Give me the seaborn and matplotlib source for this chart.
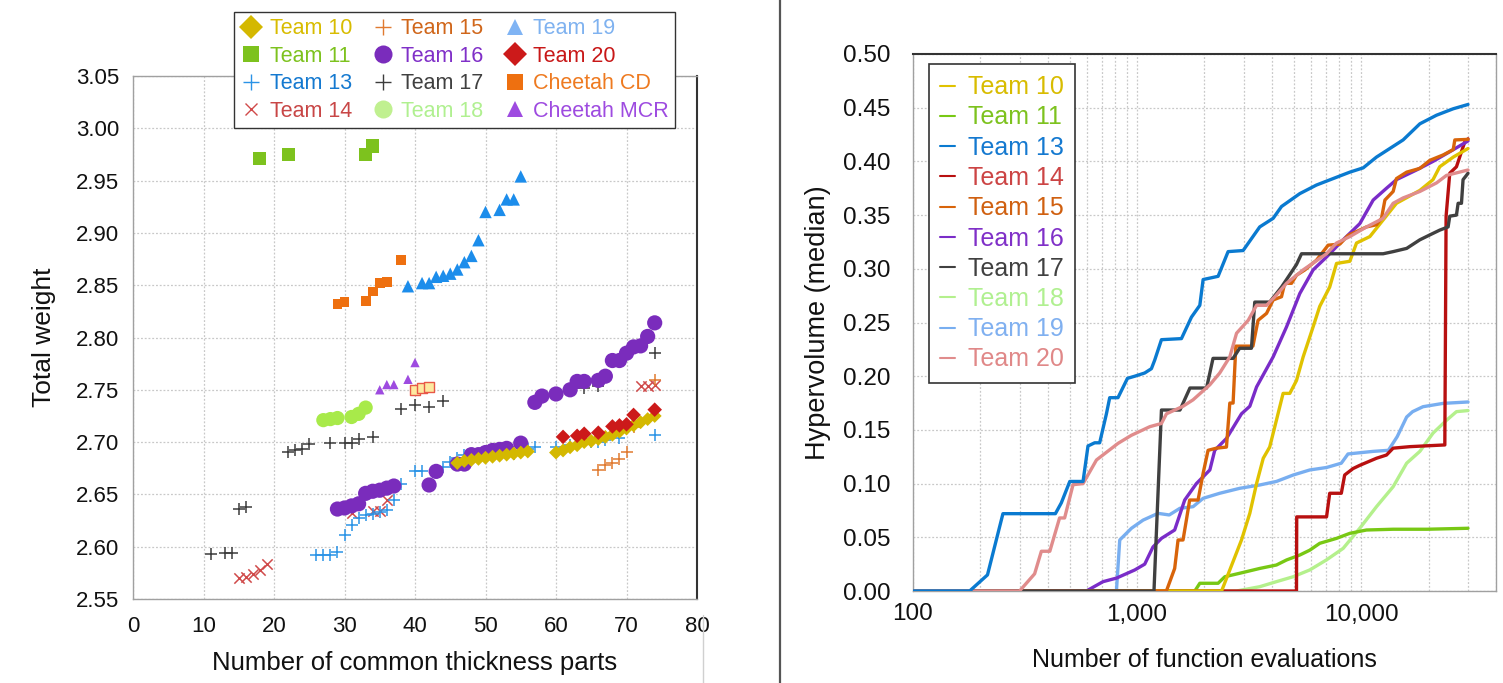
import numpy as np
import pandas as pd
import matplotlib
matplotlib.use("Agg")
import matplotlib.pyplot as plt
import seaborn as sns
from matplotlib.lines import Line2D
from matplotlib.ticker import FixedLocator, FuncFormatter, LogLocator, NullFormatter

# ---------------- LEFT PANEL DATA: (number of common thickness parts, total weight) ----------------
team10_parts = [46, 47, 48, 49, 50, 51, 52, 53, 54, 55, 56, 60, 61, 62, 63, 64, 65, 66, 67, 68, 69, 70, 71, 72, 73, 74]
team10_weight = [2.680, 2.682, 2.683, 2.684, 2.685, 2.686, 2.687, 2.688, 2.689, 2.690, 2.691, 2.690, 2.692, 2.695,
                 2.697, 2.700, 2.701, 2.703, 2.705, 2.707, 2.710, 2.713, 2.716, 2.719, 2.722, 2.725]
team11_parts = [18, 22, 33, 34]
team11_weight = [2.971, 2.975, 2.975, 2.983]
team13_parts = [26, 27, 28, 29, 30, 31, 32, 33, 34, 35, 36, 37, 38, 40, 41, 44, 45, 46, 47, 54, 56, 57, 60, 62, 63,
                65, 66, 67, 69, 74]
team13_weight = [2.592, 2.592, 2.592, 2.595, 2.611, 2.621, 2.627, 2.630, 2.631, 2.633, 2.635, 2.645, 2.660, 2.672,
                 2.672, 2.676, 2.681, 2.685, 2.688, 2.689, 2.693, 2.695, 2.695, 2.697, 2.698, 2.700, 2.700, 2.702,
                 2.704, 2.707]
team14_parts = [15, 16, 17, 18, 19, 31, 34, 35, 36, 72, 73, 74]
team14_weight = [2.570, 2.571, 2.574, 2.578, 2.583, 2.632, 2.634, 2.634, 2.645, 2.754, 2.754, 2.755]
team15_parts = [66, 67, 68, 69, 70, 71, 74]
team15_weight = [2.673, 2.678, 2.680, 2.684, 2.691, 2.714, 2.759]
team16_parts = [29, 30, 31, 32, 33, 34, 35, 36, 37, 42, 43, 46, 47, 48, 49, 50, 51, 52, 53, 55, 57, 58, 60, 62, 63,
                64, 66, 67, 68, 69, 70, 71, 72, 73, 74]
team16_weight = [2.636, 2.637, 2.639, 2.641, 2.651, 2.653, 2.654, 2.656, 2.658, 2.659, 2.672, 2.679, 2.679, 2.688,
                 2.688, 2.690, 2.692, 2.693, 2.694, 2.699, 2.738, 2.744, 2.746, 2.750, 2.758, 2.758, 2.759, 2.763,
                 2.778, 2.778, 2.785, 2.791, 2.792, 2.801, 2.814]
team17_parts = [11, 13, 14, 15, 16, 22, 23, 24, 25, 28, 30, 31, 32, 34, 38, 40, 42, 44, 64, 66, 67, 74]
team17_weight = [2.593, 2.594, 2.594, 2.636, 2.638, 2.691, 2.692, 2.693, 2.698, 2.699, 2.699, 2.699, 2.703, 2.705,
                 2.732, 2.735, 2.734, 2.739, 2.752, 2.754, 2.762, 2.785]
team18_parts = [27, 28, 29, 31, 32, 33]
team18_weight = [2.721, 2.722, 2.723, 2.724, 2.727, 2.733]
team19_parts = [39, 41, 42, 43, 44, 45, 46, 47, 48, 49, 50, 52, 53, 54, 55]
team19_weight = [2.849, 2.852, 2.852, 2.858, 2.859, 2.861, 2.865, 2.872, 2.878, 2.893, 2.920, 2.922, 2.932, 2.932,
                 2.954]
team20_parts = [61, 63, 64, 66, 68, 69, 70, 71, 74]
team20_weight = [2.705, 2.706, 2.708, 2.709, 2.715, 2.716, 2.717, 2.726, 2.731]
cheetah_cd_parts = [29, 30, 33, 34, 35, 36, 38]
cheetah_cd_weight = [2.832, 2.834, 2.835, 2.844, 2.852, 2.853, 2.874]
cheetah_mcr_parts = [35, 36, 37, 39, 40]
cheetah_mcr_weight = [2.750, 2.755, 2.755, 2.760, 2.776]
highlight_parts = [40, 41, 42]
highlight_weight = [2.750, 2.7515, 2.753]

# ---------------- RIGHT PANEL DATA: (function evaluations, median hypervolume) ----------------
hv10_evals = [100, 2384, 2594, 2925, 3186, 3415, 3658, 3908, 4188, 4486, 4805, 5148, 5513, 6108, 6536, 7242, 7767,
              8906, 9539, 10940, 12540, 14380, 18290, 20940, 22430, 25770, 30000]
hv10_value = [0, 0, 0.0196, 0.0475, 0.0723, 0.100, 0.1236, 0.134, 0.159, 0.184, 0.184, 0.196, 0.218, 0.246, 0.265,
              0.283, 0.305, 0.307, 0.324, 0.330, 0.3455, 0.361, 0.373, 0.383, 0.395, 0.404, 0.412]
hv11_evals = [100, 1811, 1906, 2300, 2466, 2870, 3528, 4188, 4648, 5326, 5900, 6536, 7767, 8906, 10570, 13900, 19650,
              30000]
hv11_value = [0, 0, 0.0072, 0.0072, 0.0133, 0.0165, 0.021, 0.0242, 0.0289, 0.0335, 0.038, 0.0444, 0.049, 0.0537,
              0.0568, 0.0575, 0.0575, 0.0584]
hv13_evals = [100, 179, 215, 252, 432, 459, 501, 574, 604, 647, 681, 730, 755, 822, 906, 977, 1082, 1159, 1199, 1285,
              1578, 1749, 1906, 1972, 2300, 2549, 2974, 3528, 4050, 4413, 5326, 6321, 7500, 8906, 10220, 11710, 13430,
              15400, 18290, 21700, 25770, 30000]
hv13_value = [0, 0, 0.015, 0.072, 0.072, 0.082, 0.102, 0.102, 0.135, 0.138, 0.138, 0.165, 0.180, 0.180, 0.198, 0.200,
              0.203, 0.207, 0.215, 0.234, 0.235, 0.255, 0.266, 0.290, 0.293, 0.316, 0.317, 0.339, 0.347, 0.358, 0.370,
              0.378, 0.384, 0.390, 0.394, 0.404, 0.412, 0.420, 0.435, 0.443, 0.449, 0.453]
hv14_evals = [100, 5148, 5160, 7011, 7242, 8160, 8446, 9205, 9863, 11710, 12980, 13900, 16510, 23640, 23950, 24870,
              26640, 28050, 29000, 30000]
hv14_value = [0, 0, 0.069, 0.069, 0.091, 0.091, 0.108, 0.114, 0.117, 0.1236, 0.1266, 0.133, 0.1344, 0.136, 0.349,
              0.389, 0.395, 0.409, 0.418, 0.421]
hv15_evals = [100, 1352, 1472, 1524, 1604, 1660, 1717, 1872, 1972, 2075, 2261, 2506, 2594, 2683, 2760, 3290, 3467,
              3784, 4050, 4413, 4562, 4892, 5148, 5612, 6321, 7128, 8037, 8740, 10570, 11710, 12330, 12770, 13900,
              14380, 15970, 18290, 20270, 23230, 25770, 26200, 30000]
hv15_value = [0, 0, 0.021, 0.0475, 0.0475, 0.066, 0.0847, 0.0847, 0.1096, 0.131, 0.133, 0.134, 0.175, 0.175, 0.228,
              0.228, 0.252, 0.2585, 0.271, 0.274, 0.2865, 0.2865, 0.294, 0.299, 0.308, 0.322, 0.323, 0.331, 0.339,
              0.341, 0.347, 0.364, 0.372, 0.384, 0.390, 0.3935, 0.401, 0.406, 0.411, 0.420, 0.4205]
hv16_evals = [100, 594, 705, 809, 977, 1082, 1178, 1285, 1472, 1632, 1840, 2113, 2222, 2506, 2925, 3186, 3415, 4050,
              4648, 5326, 6108, 7011, 8316, 9863, 11320, 12980, 14380, 17670, 20940, 24870, 30000]
hv16_value = [0, 0, 0.0087, 0.012, 0.0196, 0.025, 0.041, 0.049, 0.0568, 0.0847, 0.100, 0.1127, 0.131, 0.142, 0.165,
              0.172, 0.190, 0.218, 0.246, 0.277, 0.299, 0.311, 0.327, 0.342, 0.364, 0.375, 0.383, 0.392, 0.400, 0.409,
              0.419]
hv17_evals = [100, 1190, 1285, 1554, 1722, 2043, 2183, 2682, 2870, 3240, 3352, 3908, 4413, 4892, 5148, 5421, 12540,
              13900, 15970, 18290, 20940, 22430, 24450, 24870, 26640, 27100, 28050, 28510, 29520, 30000]
hv17_value = [0, 0, 0.1685, 0.1685, 0.189, 0.189, 0.2166, 0.2166, 0.226, 0.226, 0.269, 0.269, 0.283, 0.297, 0.304,
              0.314, 0.314, 0.316, 0.319, 0.327, 0.333, 0.336, 0.339, 0.349, 0.350, 0.361, 0.361, 0.383, 0.387, 0.389]
hv18_evals = [100, 2780, 3528, 4188, 4978, 5900, 7011, 8316, 9863, 11710, 13900, 15970, 18290, 20940, 24060, 26640,
              30000]
hv18_value = [0, 0, 0.004, 0.0087, 0.0133, 0.0196, 0.029, 0.0397, 0.0584, 0.0785, 0.0971, 0.119, 0.130, 0.147, 0.159,
              0.167, 0.168]
hv19_evals = [100, 809, 837, 944, 1064, 1240, 1392, 1554, 1778, 1972, 2339, 2870, 3528, 4188, 4978, 5900, 7011, 8160,
              8740, 11320, 13240, 14490, 15970, 16980, 18890, 23230, 30000]
hv19_value = [0, 0, 0.0475, 0.0584, 0.066, 0.0723, 0.0708, 0.077, 0.0785, 0.0863, 0.091, 0.0956, 0.0987, 0.102,
              0.108, 0.1127, 0.115, 0.119, 0.1276, 0.130, 0.131, 0.1437, 0.162, 0.167, 0.1716, 0.1747, 0.176]
hv20_evals = [100, 299, 349, 374, 408, 451, 475, 518, 574, 659, 718, 823, 944, 1140, 1285, 1353, 1604, 1778, 2113,
              2339, 2594, 2780, 3133, 3415, 3784, 4122, 4648, 5513, 7011, 7767, 8906, 10570, 12540, 13900, 15400,
              18290, 21720, 24060, 30000]
hv20_value = [0, 0, 0.016, 0.037, 0.037, 0.068, 0.068, 0.099, 0.100, 0.122, 0.128, 0.1375, 0.145, 0.153, 0.156, 0.165,
              0.172, 0.178, 0.192, 0.203, 0.218, 0.240, 0.252, 0.266, 0.266, 0.274, 0.2865, 0.299, 0.314, 0.324,
              0.330, 0.339, 0.347, 0.361, 0.366, 0.372, 0.380, 0.387, 0.392]

x_ticks_left = [0, 10, 20, 30, 40, 50, 60, 70, 80]
y_ticks_left = [2.55, 2.60, 2.65, 2.70, 2.75, 2.80, 2.85, 2.90, 2.95, 3.00, 3.05]
y_ticks_right = [0.00, 0.05, 0.10, 0.15, 0.20, 0.25, 0.30, 0.35, 0.40, 0.45, 0.50]
x_ticks_right = [100, 1000, 10000]

# ---------------- STYLE ----------------
sns.set_theme(style="white")
plt.rcParams["font.family"] = ["Liberation Sans", "DejaVu Sans"]

fig = plt.figure(figsize=(15.03, 6.83), dpi=100)
ax1 = fig.add_axes([133 / 1503, 1 - 599 / 683, (697 - 133) / 1503, (599 - 76) / 683])
ax2 = fig.add_axes([913 / 1503, 1 - 591 / 683, (1496 - 913) / 1503, (591 - 54) / 683])

grid_kw = dict(color="#c8c8c8", linestyle=(0, (1.5, 1.5)), linewidth=0.9)

# ---- left scatter ----
left_series = [
    # label, xs, ys, marker, size, colour, legend marker colour, text colour
    ("Team 17", team17_parts, team17_weight, "+", 75, "#3c3c3c", "#3c3c3c", "#404040"),
    ("Team 14", team14_parts, team14_weight, "x", 55, "#d04a4a", "#d04a4a", "#c84646"),
    ("Team 13", team13_parts, team13_weight, "+", 75, "#2a93e6", "#2a93e6", "#1479d0"),
    ("Team 15", team15_parts, team15_weight, "+", 75, "#e07a30", "#e07a30", "#d0661a"),
    ("Team 18", team18_parts, team18_weight, "o", 105, "#a8ea4a", "#c0f090", "#b0f090"),
    ("Team 16", team16_parts, team16_weight, "o", 120, "#7a2cbc", "#7a2cbc", "#8030c8"),
    ("Team 10", team10_parts, team10_weight, "D", 50, "#d4b800", "#d4b800", "#d8bc00"),
    ("Team 20", team20_parts, team20_weight, "D", 55, "#cc1a1a", "#cc1a1a", "#c81818"),
    ("Team 11", team11_parts, team11_weight, "s", 90, "#7dc21e", "#7dc21e", "#7dc21e"),
    ("Cheetah CD", cheetah_cd_parts, cheetah_cd_weight, "s", 50, "#ee7010", "#ee7010", "#ee7a20"),
    ("Team 19", team19_parts, team19_weight, "^", 80, "#1c8deb", "#80b4f4", "#7fb2f0"),
    ("Cheetah MCR", cheetah_mcr_parts, cheetah_mcr_weight, "^", 45, "#9e4be0", "#9e4be0", "#9e4be0"),
]
for label, xs, ys, mk, s, col, lcol, tcol in left_series:
    df = pd.DataFrame({"parts": xs, "weight": ys})
    lw = 1.1 if mk in ("+", "x") else 0
    sns.scatterplot(data=df, x="parts", y="weight", ax=ax1, marker=mk, s=s, color=col,
                    linewidth=lw, edgecolor=col if mk in ("+", "x") else "none", zorder=3, legend=False)
df_h = pd.DataFrame({"parts": highlight_parts, "weight": highlight_weight})
sns.scatterplot(data=df_h, x="parts", y="weight", ax=ax1, marker="s", s=55, color="#fde9a0",
                edgecolor="#e85848", linewidth=1.0, zorder=3, legend=False)

ax1.set_xlim(0, 80)
ax1.set_ylim(2.55, 3.05)
ax1.xaxis.set_major_locator(FixedLocator(x_ticks_left))
ax1.yaxis.set_major_locator(FixedLocator(y_ticks_left))
ax1.yaxis.set_major_formatter(FuncFormatter(lambda v, p: f"{v:.2f}"))
ax1.grid(True, **grid_kw)
ax1.set_axisbelow(True)
ax1.tick_params(axis="both", length=0, labelsize=16, colors="#111111")
ax1.tick_params(axis="x", pad=12)
ax1.tick_params(axis="y", pad=10)
ax1.set_xlabel("Number of common thickness parts", fontsize=18.5, color="#111111", labelpad=10)
ax1.set_ylabel("Total weight", fontsize=19, color="#111111", labelpad=14)
for side in ("left", "bottom", "top"):
    ax1.spines[side].set_color("#a0a0a0")
    ax1.spines[side].set_linewidth(1.0)
ax1.spines["right"].set_color("#333333")
ax1.spines["right"].set_linewidth(1.5)

legend_order = ["Team 10", "Team 11", "Team 13", "Team 14", "Team 15", "Team 16", "Team 17", "Team 18",
                "Team 19", "Team 20", "Cheetah CD", "Cheetah MCR"]
info = {s[0]: s for s in left_series}
handles, tcols = [], []
for lab in legend_order:
    _, _, _, mk, s, col, lcol, tcol = info[lab]
    ms = {"D": 12, "s": 11, "o": 13, "^": 12, "+": 11, "x": 9}[mk]
    if mk in ("+", "x"):
        h = Line2D([], [], linestyle="none", marker=mk, markersize=ms, color=lcol, markeredgewidth=1.0)
    else:
        h = Line2D([], [], linestyle="none", marker=mk, markersize=ms, color=lcol, markeredgewidth=0)
    handles.append(h)
    tcols.append(tcol)
leg1 = fig.legend(handles, legend_order, loc="upper left", bbox_to_anchor=(234 / 1503, 1 - 12 / 683), ncol=3,
                  fontsize=15.5, frameon=True, fancybox=False, edgecolor="#333333", framealpha=1,
                  handlelength=1.0, handletextpad=0.35, columnspacing=0.95, labelspacing=0.3, borderpad=0.3,
                  borderaxespad=0, labelcolor=tcols)
leg1.get_frame().set_linewidth(1.0)

# ---- right lines ----
right_series = [
    ("Team 10", hv10_evals, hv10_value, "#e0c200", "#d8bc00"),
    ("Team 11", hv11_evals, hv11_value, "#78c814", "#7dc21e"),
    ("Team 13", hv13_evals, hv13_value, "#0a7ad0", "#1479d0"),
    ("Team 14", hv14_evals, hv14_value, "#b81010", "#cc4444"),
    ("Team 15", hv15_evals, hv15_value, "#d8640a", "#d06010"),
    ("Team 16", hv16_evals, hv16_value, "#7a2cc8", "#8030c8"),
    ("Team 17", hv17_evals, hv17_value, "#404040", "#404040"),
    ("Team 18", hv18_evals, hv18_value, "#b4f08c", "#b0f090"),
    ("Team 19", hv19_evals, hv19_value, "#78aef0", "#80b0f0"),
    ("Team 20", hv20_evals, hv20_value, "#e08c8c", "#e08888"),
]
draw_order = ["Team 18", "Team 11", "Team 19", "Team 14", "Team 10", "Team 16", "Team 15", "Team 17", "Team 20",
              "Team 13"]
rinfo = {s[0]: s for s in right_series}
for lab in draw_order:
    _, xs, ys, col, _ = rinfo[lab]
    df = pd.DataFrame({"evals": xs, "hv": ys})
    sns.lineplot(data=df, x="evals", y="hv", ax=ax2, color=col, linewidth=2.4, estimator=None, sort=False,
                 legend=False, zorder=3)

ax2.set_xscale("log")
ax2.set_xlim(100, 40000)
ax2.set_ylim(0, 0.5)
ax2.xaxis.set_major_locator(FixedLocator(x_ticks_right))
ax2.xaxis.set_major_formatter(FuncFormatter(lambda v, p: f"{int(round(v)):,}"))
ax2.xaxis.set_minor_locator(LogLocator(base=10, subs=np.arange(2, 10)))
ax2.xaxis.set_minor_formatter(NullFormatter())
ax2.yaxis.set_major_locator(FixedLocator(y_ticks_right))
ax2.yaxis.set_major_formatter(FuncFormatter(lambda v, p: f"{v:.2f}"))
ax2.grid(True, which="major", **grid_kw)
ax2.grid(True, which="minor", axis="x", **grid_kw)
ax2.set_axisbelow(True)
ax2.tick_params(axis="both", which="both", length=0, labelsize=17.5, colors="#111111")
ax2.tick_params(axis="y", pad=16)
ax2.tick_params(axis="x", pad=9)
ax2.set_xlabel("Number of function evaluations", fontsize=18, color="#111111", labelpad=16)
ax2.set_ylabel("Hypervolume (median)", fontsize=19.5, color="#111111", labelpad=9)
for side in ("left", "bottom", "right"):
    ax2.spines[side].set_color("#a0a0a0")
    ax2.spines[side].set_linewidth(1.0)
ax2.spines["top"].set_color("#333333")
ax2.spines["top"].set_linewidth(1.5)

rhandles = [Line2D([], [], color=rinfo[l][3], linewidth=1.5) for l in [s[0] for s in right_series]]
rlabels = [s[0] for s in right_series]
leg2 = ax2.legend(rhandles, rlabels, loc="upper left", bbox_to_anchor=(16 / 583, 1 - 10 / 537), fontsize=18,
                  frameon=True, fancybox=False, edgecolor="#333333", framealpha=1, handlelength=0.6,
                  handletextpad=0.5, labelspacing=0.25, borderpad=0.45, borderaxespad=0,
                  labelcolor=[s[4] for s in right_series])
leg2.get_frame().set_linewidth(1.2)

# panel divider and faint crop edges
fig.add_artist(Line2D([780 / 1503, 780 / 1503], [0, 1], transform=fig.transFigure, color="#555555", linewidth=1.6))
fig.add_artist(Line2D([703 / 1503, 703 / 1503], [0, 1 - 615 / 683], transform=fig.transFigure, color="#d0d0d0",
                      linewidth=1.0))

fig.savefig("out.png", dpi=100)
